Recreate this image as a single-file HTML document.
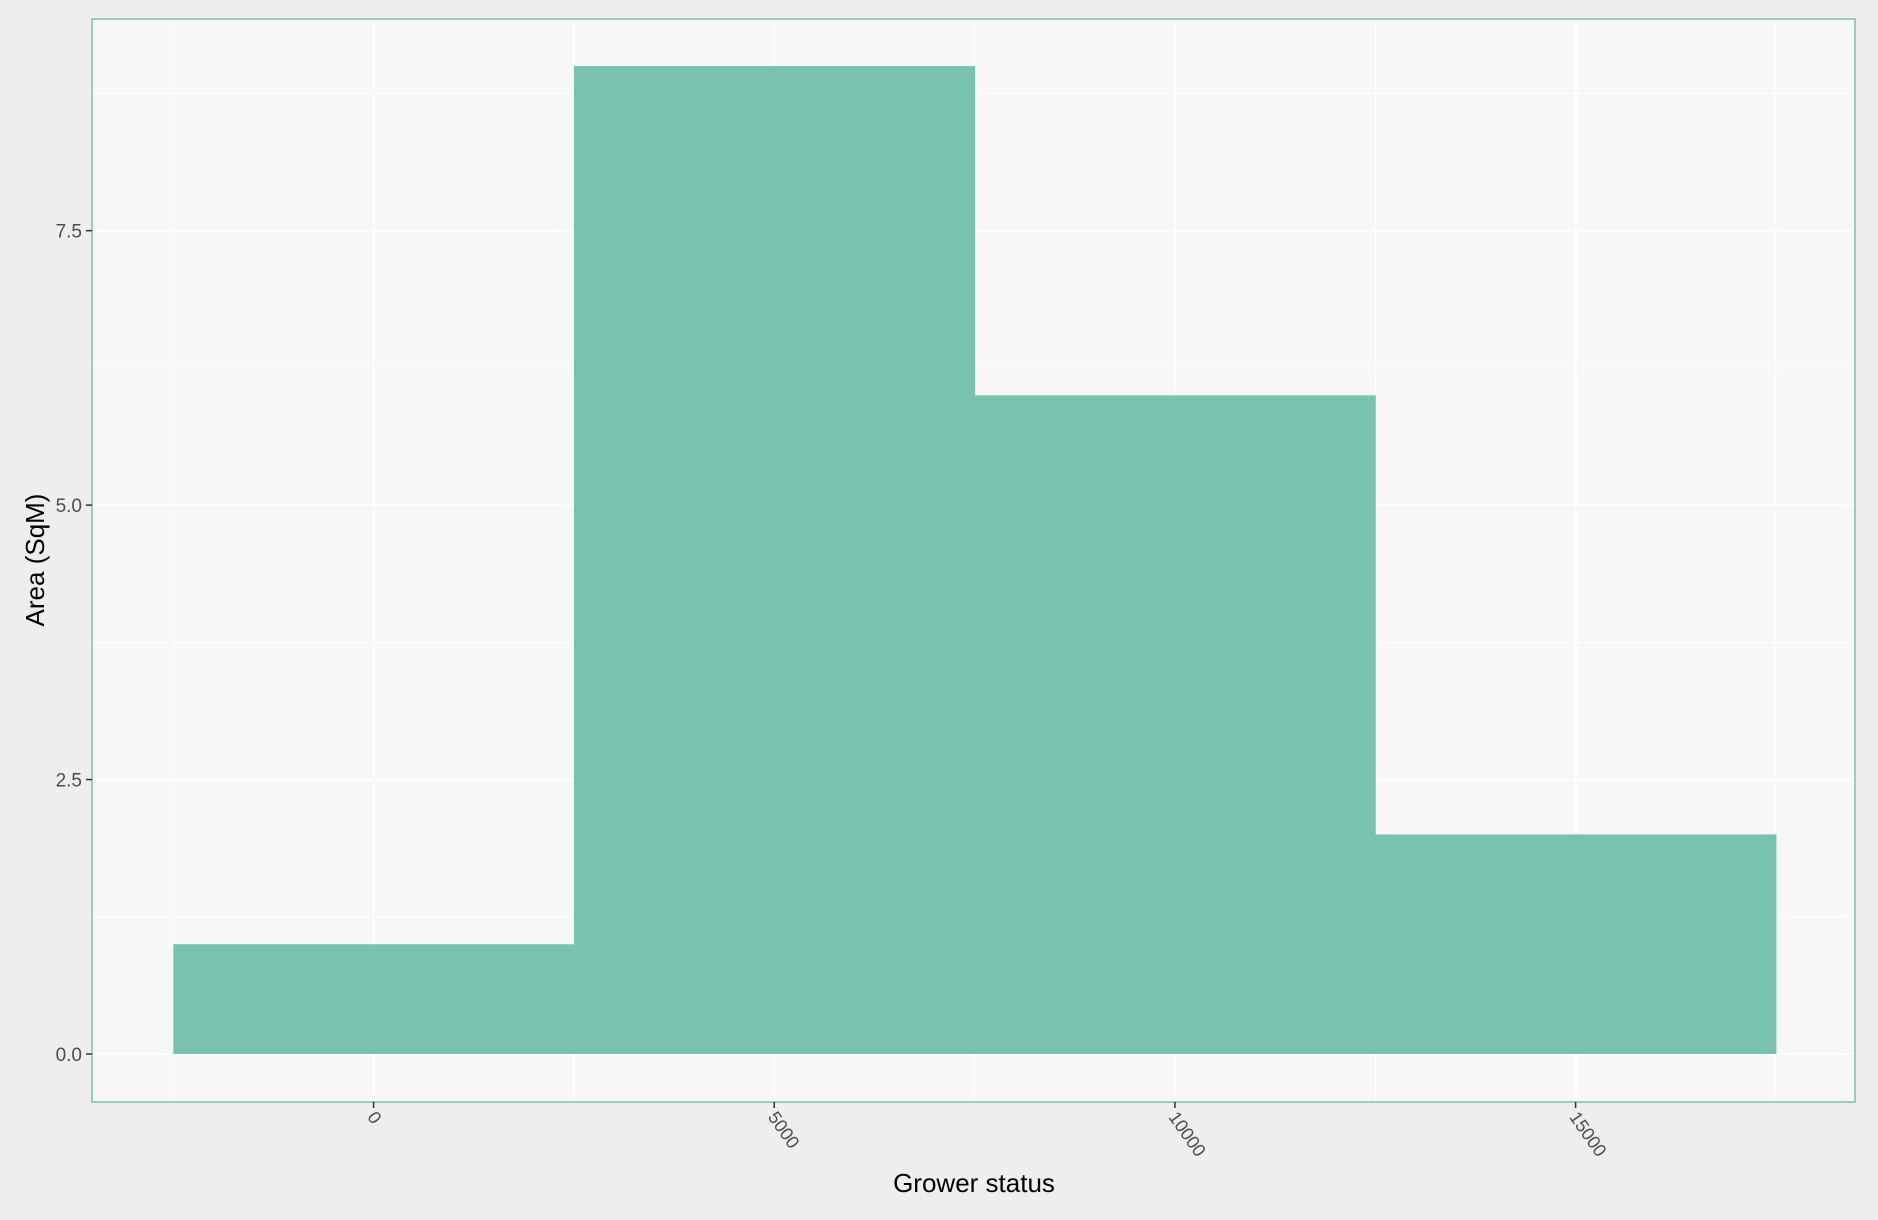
<!DOCTYPE html>
<html><head><meta charset="utf-8"><style>
html,body{margin:0;padding:0;background:#efefef;}
svg{display:block;font-family:"Liberation Sans",sans-serif;}
</style></head><body>
<svg id="chart" width="1878" height="1220">
<rect x="0" y="0" width="1878" height="1220" fill="#eeeeee"/>
<rect x="92" y="19" width="1763" height="1083" fill="#f7f7f7"/>
<g id="grid"></g>
<g id="bars"></g>
<rect x="92" y="19" width="1763" height="1083" fill="none" stroke="#79c2ae" stroke-width="1.5"/>
<g id="axes"></g>
<text x="974" y="1192" font-size="26" text-anchor="middle" fill="#000">Grower status</text>
<text transform="translate(44,560) rotate(-90)" font-size="26" text-anchor="middle" fill="#000">Area (SqM)</text>
</svg>
<script>
const binCenters = [0, 5000, 10000, 15000];
const binCounts = [1, 9, 6, 2];
const xTicks = [0, 5000, 10000, 15000];
const yTicks = [0, 2.5, 5, 7.5];
const binWidth = 5000;
const NS = "http://www.w3.org/2000/svg";
function xs(v){ return 373.6 + v * (1575.6 - 373.6) / 15000; }
function ys(v){ return 1054 - v * (1054 - 66) / 9; }
const grid = document.getElementById('grid');
const bars = document.getElementById('bars');
const axes = document.getElementById('axes');
function mk(tag, attrs, parent){ const e=document.createElementNS(NS,tag); for(const k in attrs) e.setAttribute(k,attrs[k]); parent.appendChild(e); return e; }
for (let i=-1;i<xTicks.length;i++){
  const v = xTicks[0] + i*5000 + 2500;
  const l = mk('line',{x1:xs(v),x2:xs(v),y1:19,y2:1102,stroke:'#ffffff','stroke-width':1},grid);
  
  
}
for (let i=0;i<yTicks.length;i++){
  const v = yTicks[i] + 1.25;
  const l = mk('line',{x1:92,x2:1855,y1:ys(v),y2:ys(v),stroke:'#ffffff','stroke-width':1},grid);
  
  
}
xTicks.forEach(v=>{
  const l = mk('line',{x1:xs(v),x2:xs(v),y1:19,y2:1102,stroke:'#ffffff','stroke-width':2},grid);
  
  
  const t = mk('line',{x1:xs(v),x2:xs(v),y1:1102,y2:1108,stroke:'#333','stroke-width':1.5},axes);
  
  
  const tx = mk('text',{transform:`translate(${xs(v)-7},${1117}) rotate(55)`,'font-size':18,fill:'#4d4d4d'},axes);
  tx.textContent = v;
  
  
});
yTicks.forEach(v=>{
  const l = mk('line',{x1:92,x2:1855,y1:ys(v),y2:ys(v),stroke:'#ffffff','stroke-width':2},grid);
  
  
  const t = mk('line',{x1:86,x2:92,y1:ys(v),y2:ys(v),stroke:'#333','stroke-width':1.5},axes);
  
  
  const tx = mk('text',{x:82,y:ys(v)+7,'font-size':19,fill:'#4d4d4d','text-anchor':'end'},axes);
  tx.textContent = v.toFixed(1);
  
  
});
binCenters.forEach((c,i)=>{
  const x0 = xs(c - binWidth/2), x1 = xs(c + binWidth/2);
  const b = mk('rect',{x:x0,y:ys(binCounts[i]),width:x1-x0+0.5,height:ys(0)-ys(binCounts[i]),fill:'#79c2ae'},bars);
  
  
});
</script>
</body></html>
